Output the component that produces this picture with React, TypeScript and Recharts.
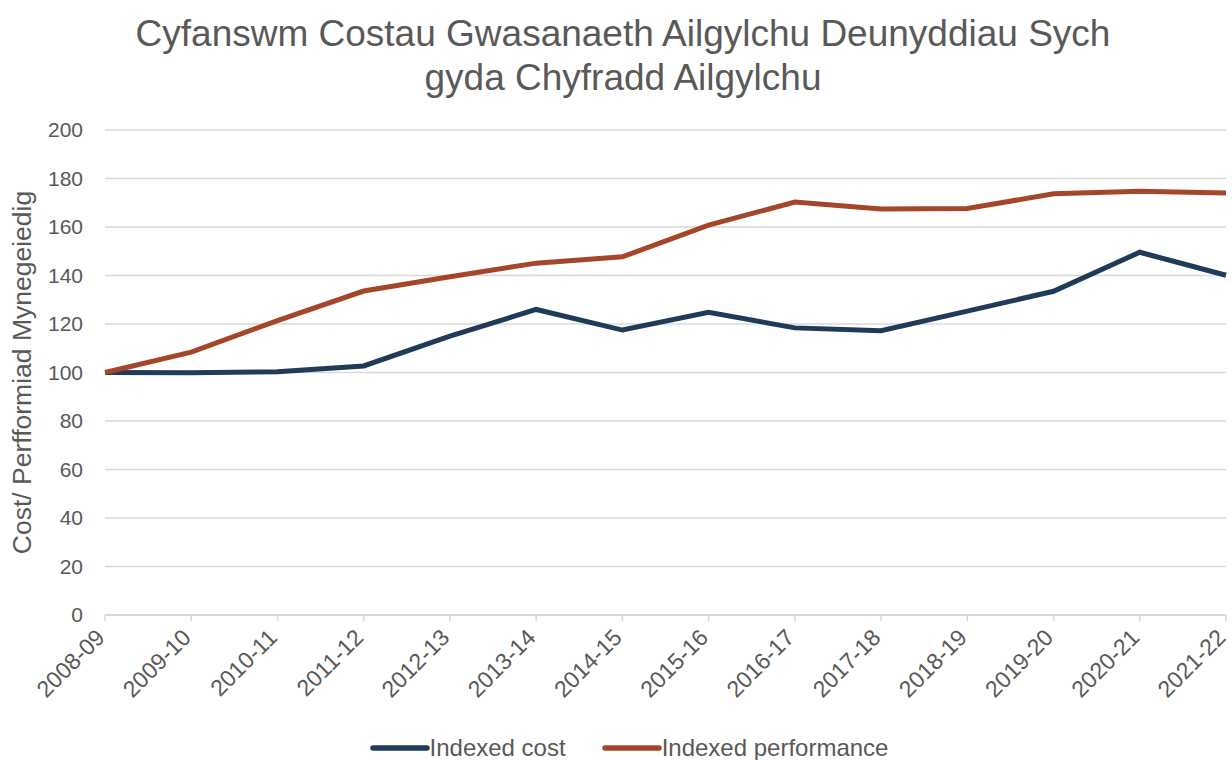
import React from "react";
import { LineChart, Line, XAxis, YAxis, CartesianGrid } from "recharts";

const categories = ["2008-09","2009-10","2010-11","2011-12","2012-13","2013-14","2014-15","2015-16","2016-17","2017-18","2018-19","2019-20","2020-21","2021-22"];
const indexedCost = [100, 99.9, 100.3, 102.7, 115, 126, 117.5, 124.8, 118.4, 117.2, 125.3, 133.5, 149.6, 140.1];
const indexedPerformance = [100, 108.4, 121.4, 133.6, 139.5, 145.1, 147.7, 160.8, 170.3, 167.4, 167.6, 173.7, 174.7, 174];
const yTicks = [0, 20, 40, 60, 80, 100, 120, 140, 160, 180, 200];
const titleLines = ["Cyfanswm Costau Gwasanaeth Ailgylchu Deunyddiau Sych", "gyda Chyfradd Ailgylchu"];
const yLabel = "Cost/ Perfformiad Mynegeiedig";
const seriesNames = ["Indexed cost", "Indexed performance"];

const data = categories.map((c, i) => ({ cat: c, cost: indexedCost[i], perf: indexedPerformance[i] }));

const TEXT = "#595959";
const FONT = "'Liberation Sans', Arial, sans-serif";
const COST_COLOR = "#1f3b57";
const PERF_COLOR = "#a5462b";

const XTick = (props: any) => {
  const { x, y, payload } = props;
  return (
    <g transform={`translate(${x + 1},${y + 16})`}>
      <text x={0} y={0} textAnchor="end" transform="rotate(-45)" fill={TEXT} fontSize={23} fontFamily={FONT}>
        {payload.value}
      </text>
    </g>
  );
};

const LegendBox = () => {
  const items = [
    { name: seriesNames[0], color: COST_COLOR },
    { name: seriesNames[1], color: PERF_COLOR },
  ];
  return (
    <div style={{ position: "absolute", left: 0, top: 733, width: 1232, display: "flex", justifyContent: "center", alignItems: "center", height: 30, paddingLeft: 26, boxSizing: "border-box" }}>
      {items.map((it, i) => (
        <div key={i} style={{ display: "flex", alignItems: "center", marginRight: i === 0 ? 36 : 0 }}>
          <svg width={60} height={8} style={{ display: "block" }}>
            <line x1={3} y1={4} x2={57} y2={4} stroke={it.color} strokeWidth={5.5} strokeLinecap="round" />
          </svg>
          <span style={{ fontFamily: FONT, fontSize: 24, color: TEXT, lineHeight: "30px" }}>{it.name}</span>
        </div>
      ))}
    </div>
  );
};

export default function App() {
  return (
    <div style={{ position: "absolute", left: 0, top: 0, width: 1232, height: 760, background: "#fff" }}>
      <div style={{ position: "absolute", left: 0, top: 12, width: 1246, textAlign: "center", fontFamily: FONT, fontSize: 37, color: TEXT, lineHeight: "44px" }}>
        {titleLines.map((t, i) => (<div key={i}>{t}</div>))}
      </div>
      <LineChart width={1232} height={760} data={data} margin={{ top: 130, right: 6, bottom: 39, left: 0 }}>
        <CartesianGrid horizontal vertical={false} stroke="#d9d9d9" strokeWidth={1.5} />
        <XAxis
          dataKey="cat"
          tick={<XTick />}
          interval={0}
          height={106}
          stroke="#d9d9d9"
          strokeWidth={1.5}
          tickSize={6}
          tickLine={{ stroke: "#d9d9d9", strokeWidth: 1.5 }}
          padding={{ left: 0, right: 0 }}
        />
        <YAxis
          domain={[0, 200]}
          ticks={yTicks}
          width={105}
          axisLine={false}
          tickLine={false}
          tick={{ fill: TEXT, fontSize: 21, fontFamily: FONT }}
          tickMargin={16}
          label={{ value: yLabel, angle: -90, position: "insideLeft", offset: 22, style: { fill: TEXT, fontSize: 26.5, fontFamily: FONT, textAnchor: "middle" } }}
        />
        <Line type="linear" dataKey="cost" name={seriesNames[0]} stroke={COST_COLOR} strokeWidth={5} dot={false} isAnimationActive={false} />
        <Line type="linear" dataKey="perf" name={seriesNames[1]} stroke={PERF_COLOR} strokeWidth={5} dot={false} isAnimationActive={false} />
      </LineChart>
      <LegendBox />
    </div>
  );
}
